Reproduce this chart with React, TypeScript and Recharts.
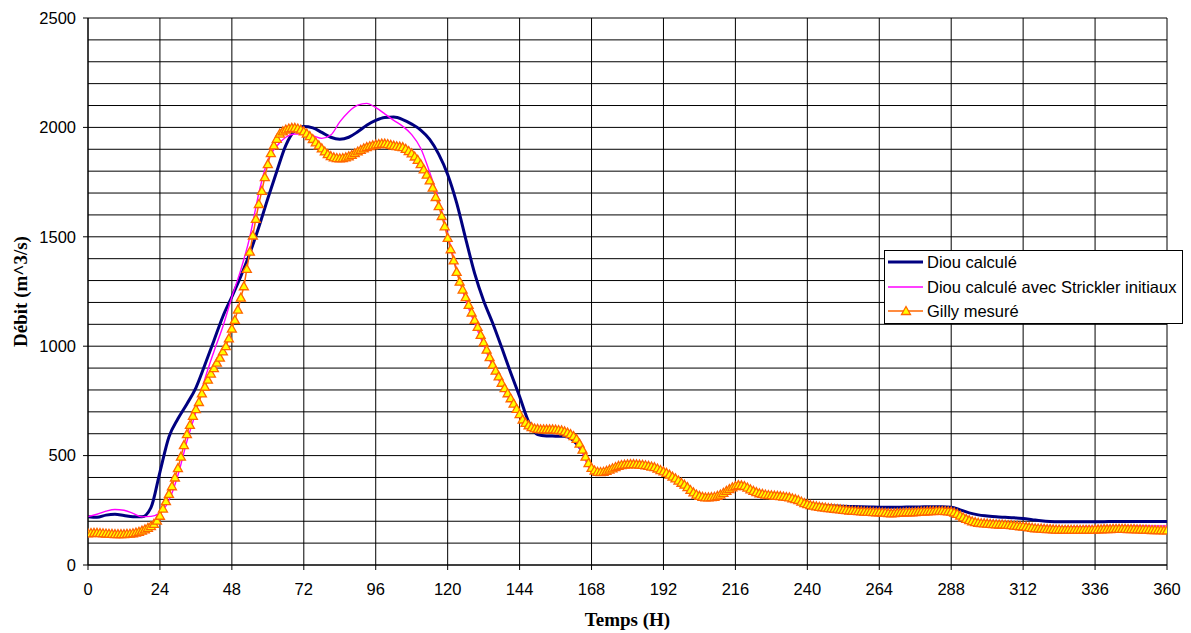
import React from "react";
import { LineChart, Line, XAxis, YAxis, CartesianGrid, Legend, Label } from "recharts";

// Gilly mesuré, one value per hour, 0..360 h
const gillyMeasured = [
  145, 146, 147, 147, 146, 145, 144, 143, 142, 141, 141, 141,
  141, 142, 143, 145, 148, 152, 157, 163, 170, 178, 188, 203,
  225, 258, 292, 325, 360, 400, 443, 495, 548, 598, 640, 682,
  712, 745, 784, 815, 847, 875, 900, 925, 948, 976, 1000, 1036,
  1080, 1120, 1167, 1222, 1274, 1353, 1432, 1506, 1582, 1650, 1710, 1773,
  1832, 1882, 1918, 1948, 1972, 1982, 1990, 1995, 1998, 1998, 1995, 1990,
  1982, 1972, 1960, 1947, 1932, 1918, 1904, 1890, 1878, 1869, 1863, 1860,
  1859, 1860, 1863, 1868, 1874, 1882, 1890, 1897, 1904, 1910, 1914, 1918,
  1921, 1924, 1926, 1926, 1924, 1920, 1917, 1914, 1912, 1910, 1902, 1892,
  1881, 1867, 1852, 1832, 1808, 1784, 1758, 1725, 1682, 1640, 1595, 1548,
  1495, 1443, 1392, 1340, 1295, 1259, 1224, 1189, 1154, 1120, 1088, 1052,
  1018, 984, 950, 916, 888, 862, 833, 808, 785, 762, 738, 714,
  690, 665, 650, 638, 630, 624, 622, 620, 620, 620, 620, 620,
  619, 617, 615, 611, 605, 598, 589, 576, 555, 527, 495, 466,
  444, 432, 426, 425, 426, 430, 436, 442, 448, 453, 457, 459,
  460, 461, 461, 460, 459, 458, 456, 453, 450, 447, 441, 434,
  428, 421, 413, 404, 396, 386, 376, 367, 356, 343, 332, 322,
  316, 312, 309, 309, 310, 312, 316, 322, 330, 339, 347, 355,
  361, 365, 364, 361, 354, 346, 339, 333, 328, 325, 322, 320,
  319, 317, 316, 315, 313, 311, 309, 305, 301, 297, 290, 283,
  278, 274, 271, 268, 266, 264, 262, 260, 259, 257, 256, 254,
  252, 251, 249, 248, 247, 246, 245, 244, 243, 243, 242, 241,
  241, 240, 239, 237, 236, 237, 238, 239, 240, 241, 241, 241,
  242, 243, 244, 244, 245, 246, 246, 247, 247, 247, 246, 245,
  244, 240, 234, 226, 218, 211, 205, 200, 196, 193, 191, 190,
  189, 188, 187, 186, 185, 185, 184, 183, 182, 180, 179, 177,
  176, 174, 172, 170, 168, 167, 166, 165, 164, 164, 163, 162,
  162, 161, 161, 161, 161, 161, 161, 161, 161, 161, 161, 161,
  162, 163, 163, 164, 164, 164, 165, 165, 165, 165, 165, 164,
  164, 164, 163, 163, 162, 162, 161, 160, 160, 159, 159, 158,
  158,
];

// Diou calculé, every 3 hours, 0..360 h
const diouCalcule = [
  221, 218, 228, 232, 226, 220, 220, 262, 425, 585, 668, 736,
  810, 915, 1025, 1136, 1226, 1320, 1425, 1545, 1675, 1800, 1918, 1985,
  2004, 1998, 1977, 1955, 1946, 1955, 1980, 2010, 2032, 2045, 2047, 2036,
  2015, 1988, 1945, 1878, 1785, 1655, 1492, 1333, 1208, 1106, 995, 880,
  770, 655, 596, 590, 589, 588, 568, 520, 442, 428, 437, 453,
  460, 460, 456, 447, 428, 404, 376, 343, 316, 310, 316, 339,
  361, 362, 340, 326, 320, 316, 311, 300, 282, 275, 272, 270,
  268, 267, 266, 265, 264, 264, 264, 265, 265, 266, 266, 266,
  264, 252, 238, 229, 224, 220, 218, 216, 212, 207, 202, 199,
  198, 198, 198, 198, 198, 198, 199, 199, 199, 199, 199, 199,
  199,
];

// Diou calculé avec Strickler initiaux, every 3 hours, 0..360 h
const diouStrickler = [
  221, 232, 246, 254, 250, 236, 220, 222, 238, 295, 410, 565,
  700, 850, 975, 1090, 1225, 1350, 1500, 1700, 1850, 1915, 1955, 1970,
  1970, 1962, 1950, 1965, 2025, 2072, 2102, 2110, 2090, 2062, 2032, 2005,
  1967, 1905, 1795, 1670, 1510, 1350, 1210, 1105, 1005, 905, 820, 750,
  680, 632, 618, 617, 615, 605, 585, 510, 430, 418, 430, 448,
  455, 456, 450, 440, 420, 395, 365, 335, 312, 305, 312, 335,
  358, 358, 338, 324, 318, 314, 308, 296, 278, 270, 264, 259,
  255, 252, 250, 248, 247, 246, 247, 248, 249, 250, 251, 251,
  248, 232, 212, 200, 196, 193, 191, 189, 186, 182, 178, 176,
  175, 175, 175, 176, 176, 177, 177, 178, 178, 178, 178, 178,
  178,
];

const hourTicks = [0, 24, 48, 72, 96, 120, 144, 168, 192, 216, 240, 264, 288, 312, 336, 360];
const flowTicks = [0, 500, 1000, 1500, 2000, 2500];
const flowGrid = [
  0, 100, 200, 300, 400, 500, 600, 700, 800, 900, 1000, 1100, 1200,
  1300, 1400, 1500, 1600, 1700, 1800, 1900, 2000, 2100, 2200, 2300, 2400, 2500,
];

const seriesNames = ["Diou calculé", "Diou calculé avec Strickler initiaux", "Gilly mesuré"];

const gillyData = gillyMeasured.map((v, i) => ({ h: i, v }));
const diouData = diouCalcule.map((v, i) => ({ h: i * 3, v }));
const stricklerData = diouStrickler.map((v, i) => ({ h: i * 3, v }));

const SANS = '"Liberation Sans", Arial, sans-serif';
const SERIF = '"Liberation Serif", "Times New Roman", serif';

const NAVY = "#000080";
const MAGENTA = "#FF00FF";
const ORANGE = "#FF6600";
const YELLOW = "#FFFF00";

const triPath = (cx: number, cy: number) =>
  `M${cx},${cy - 4.5} L${cx + 4.5},${cy + 3.5} L${cx - 4.5},${cy + 3.5} Z`;

const TriangleDot = (props: any) => {
  const { cx, cy, index } = props;
  if (cx == null || cy == null) return <g key={index} />;
  return <path key={index} d={triPath(cx, cy)} fill={YELLOW} stroke={ORANGE} strokeWidth={1.3} />;
};

const LegendBox = () => {
  const rows = [12, 37, 61];
  return (
    <svg width={299} height={74} style={{ display: "block" }}>
      <rect x={0.5} y={0.5} width={298} height={73} fill="#fff" stroke="#000" strokeWidth={1} />
      <line x1={4} x2={39} y1={rows[0]} y2={rows[0]} stroke={NAVY} strokeWidth={3} />
      <line x1={4} x2={39} y1={rows[1]} y2={rows[1]} stroke={MAGENTA} strokeWidth={1.5} />
      <line x1={4} x2={39} y1={rows[2]} y2={rows[2]} stroke={ORANGE} strokeWidth={1.5} />
      <path d={triPath(22, rows[2])} fill={YELLOW} stroke={ORANGE} strokeWidth={1.3} />
      {seriesNames.map((name, i) => (
        <text key={name} x={43} y={rows[i]} dominantBaseline="central" fontFamily={SANS} fontSize={16.5} fill="#000">
          {name}
        </text>
      ))}
    </svg>
  );
};

const YTitle = (props: any) => {
  const vb = props.viewBox || { x: 0, y: 18, width: 88, height: 547 };
  const cx = 20;
  const cy = vb.y + vb.height / 2;
  return (
    <text
      x={cx}
      y={cy}
      transform={`rotate(-90, ${cx}, ${cy})`}
      textAnchor="middle"
      dominantBaseline="central"
      fontFamily={SERIF}
      fontWeight="bold"
      fontSize={19}
      fill="#000"
    >
      Débit (m^3/s)
    </text>
  );
};

const XTitle = (props: any) => {
  const vb = props.viewBox || { x: 88, y: 565, width: 1079, height: 68 };
  return (
    <text
      x={vb.x + vb.width / 2}
      y={626}
      textAnchor="middle"
      fontFamily={SERIF}
      fontWeight="bold"
      fontSize={19}
      fill="#000"
    >
      Temps (H)
    </text>
  );
};

export default function App() {
  return (
    <div style={{ position: "absolute", left: 0, top: 0, width: 1191, height: 633, background: "#fff" }}>
      <LineChart width={1191} height={633} margin={{ top: 18, right: 24, bottom: 0, left: 0 }}>
        <CartesianGrid stroke="#000" strokeWidth={1} horizontalValues={flowGrid} verticalValues={hourTicks} />
        <XAxis
          type="number"
          dataKey="h"
          domain={[0, 360]}
          ticks={hourTicks}
          interval={0}
          height={68}
          allowDataOverflow
          axisLine={{ stroke: "#000" }}
          tickLine={{ stroke: "#000" }}
          tickSize={5}
          tickMargin={13}
          tick={{ fontFamily: SANS, fontSize: 16.5, fill: "#000" }}
        >
          <Label content={<XTitle />} />
        </XAxis>
        <YAxis
          type="number"
          domain={[0, 2500]}
          ticks={flowTicks}
          interval={0}
          width={88}
          allowDataOverflow
          axisLine={{ stroke: "#000" }}
          tickLine={{ stroke: "#000" }}
          tickSize={5}
          tickMargin={7}
          tick={{ fontFamily: SANS, fontSize: 16.5, fill: "#000" }}
        >
          <Label content={<YTitle />} />
        </YAxis>
        <Legend
          layout="horizontal"
          verticalAlign="middle"
          align="center"
          content={<LegendBox />}
          wrapperStyle={{ left: 884, top: 250, width: 299, height: 74 }}
        />
        <Line
          data={diouData}
          dataKey="v"
          name={seriesNames[0]}
          type="monotone"
          stroke={NAVY}
          strokeWidth={3}
          dot={false}
          activeDot={false}
          isAnimationActive={false}
        />
        <Line
          data={stricklerData}
          dataKey="v"
          name={seriesNames[1]}
          type="monotone"
          stroke={MAGENTA}
          strokeWidth={1.4}
          dot={false}
          activeDot={false}
          isAnimationActive={false}
        />
        <Line
          data={gillyData}
          dataKey="v"
          name={seriesNames[2]}
          type="monotone"
          stroke={ORANGE}
          strokeWidth={1.5}
          dot={TriangleDot}
          activeDot={false}
          isAnimationActive={false}
        />
      </LineChart>
    </div>
  );
}
